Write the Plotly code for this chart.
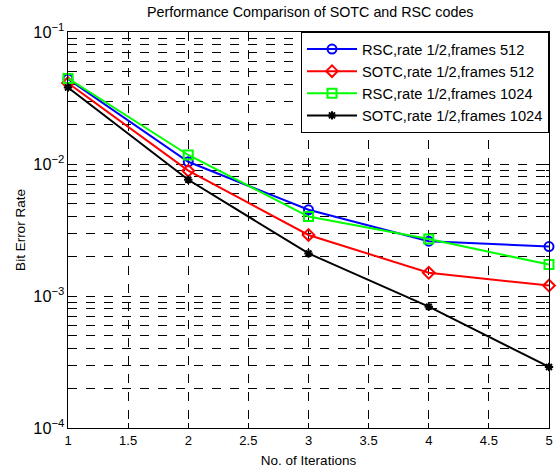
import plotly.graph_objects as go

iterations = [1, 2, 3, 4, 5]
rsc_512 = [0.0440, 0.0104, 0.0045, 0.0026, 0.00237]
sotc_512 = [0.0410, 0.0089, 0.00290, 0.00150, 0.00120]
rsc_1024 = [0.0445, 0.0117, 0.0040, 0.0027, 0.00173]
sotc_1024 = [0.0380, 0.0076, 0.00210, 0.00083, 0.00029]

names = ["RSC,rate 1/2,frames 512", "SOTC,rate 1/2,frames 512",
         "RSC,rate 1/2,frames 1024", "SOTC,rate 1/2,frames 1024"]
series = [rsc_512, sotc_512, rsc_1024, sotc_1024]
colors = ["#0000ff", "#ff0000", "#00ff00", "#000000"]
symbols = ["circle-open", "diamond-open", "square-open", "asterisk-open"]
sizes = [9, 9, 9, 7]

xtickvals = [1, 1.5, 2, 2.5, 3, 3.5, 4, 4.5, 5]

fig = go.Figure()
for n, s, c, m, sz in zip(names, series, colors, symbols, sizes):
    fig.add_trace(go.Scatter(x=iterations, y=s, name=n, mode="lines+markers",
                             cliponaxis=False,
                             line=dict(color=c, width=2),
                             marker=dict(symbol=m, size=sz, color=c, line=dict(color=c, width=2))))

font = "Liberation Sans, Arial, sans-serif"
fig.update_layout(
    width=560, height=472,
    margin=dict(l=68, r=7, t=32, b=43),
    paper_bgcolor="white", plot_bgcolor="white",
    font=dict(family=font, size=13, color="#000"),
    title=dict(text="Performance Comparison of SOTC and RSC codes", x=0.554, xanchor="center",
               y=0.975, yanchor="middle", font=dict(size=14.3, color="#000")),
    legend=dict(x=1, y=1, xanchor="right", yanchor="top", bgcolor="white",
                bordercolor="black", borderwidth=1, font=dict(size=14.7, color="#000"),
                tracegroupgap=0, itemwidth=50),
    showlegend=True,
)
fig.update_xaxes(range=[1, 5], tickvals=xtickvals, ticktext=[str(v) for v in xtickvals],
                 showline=True, linecolor="black", linewidth=1, mirror="ticks",
                 ticks="inside", ticklen=5, tickcolor="black",
                 showgrid=True, gridcolor="black", griddash="dash", gridwidth=1,
                 zeroline=False, tickfont=dict(size=13, color="#000"),
                 title=dict(text="No. of Iterations", font=dict(size=13.5), standoff=8))
fig.update_yaxes(type="log", range=[-4, -1], dtick=1, exponentformat="power", showexponent="all",
                 showline=True, linecolor="black", linewidth=1, mirror="ticks",
                 ticks="inside", ticklen=5, tickcolor="black",
                 showgrid=True, gridcolor="black", griddash="dash", gridwidth=1,
                 minor=dict(dtick="D1", showgrid=True, gridcolor="black", griddash="dash", gridwidth=1,
                            ticks="inside", ticklen=3, tickcolor="black"),
                 zeroline=False, tickfont=dict(size=13, color="#000"),
                 title=dict(text="Bit Error Rate", font=dict(size=13.5), standoff=4))

fig.write_html("out.html", config={"displayModeBar": False},
               post_script="document.body.style.margin='0';document.body.style.overflow='hidden';")
